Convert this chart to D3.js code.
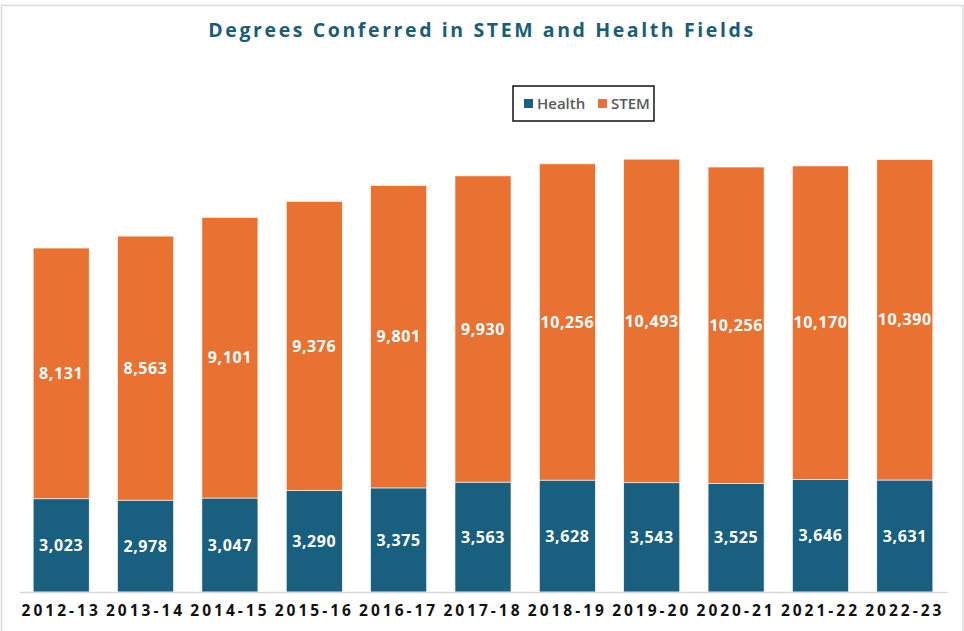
<!DOCTYPE html>
<html>
<head>
<meta charset="utf-8">
<script src="https://cdn.jsdelivr.net/npm/d3@7"></script>
<style>
  body { margin: 0; background: #fff; }
  svg { display: block; font-family: "Open Sans", "DejaVu Sans", sans-serif; }
</style>
</head>
<body>
<div id="chart"></div>
<script>
const years = ['2012-13', '2013-14', '2014-15', '2015-16', '2016-17', '2017-18',
  '2018-19', '2019-20', '2020-21', '2021-22', '2022-23'];
const health = [3023, 2978, 3047, 3290, 3375, 3563, 3628, 3543, 3525, 3646, 3631];
const stem = [8131, 8563, 9101, 9376, 9801, 9930, 10256, 10493, 10256, 10170, 10390];
const seriesNames = ['Health', 'STEM'];

const width = 964;
const height = 631;
const colors = {Health: '#185f80', STEM: '#e97233'};

const svg = d3.select('#chart')
    .append('svg')
    .attr('width', width)
    .attr('height', height);

// outer chart frame
svg.append('rect')
    .attr('x', 1.5).attr('y', 5.5)
    .attr('width', width - 2.5).attr('height', height)
    .attr('fill', 'none')
    .attr('stroke', '#d9d9d9')
    .attr('stroke-width', 1.5);

const rows = years.map((y, i) => ({year: y, Health: health[i], STEM: stem[i]}));
const stack = d3.stack().keys(seriesNames);
const layers = stack(rows);

const x = d3.scaleBand()
    .domain(years)
    .range([19, 947])
    .paddingInner(0.336)
    .paddingOuter(0.168);

const y = d3.scaleLinear()
    .domain([0, 16000])
    .range([592, 98.6]);

svg.append('text')
    .attr('x', width / 2)
    .attr('y', 37)
    .attr('text-anchor', 'middle')
    .attr('fill', '#1b5d78')
    .attr('font-size', 19.5)
    .attr('font-weight', 'bold')
    .attr('letter-spacing', 2.6)
    .text('Degrees Conferred in STEM and Health Fields');

const g = svg.append('g');

layers.forEach((layer) => {
  const key = layer.key;
  g.selectAll(null)
      .data(layer)
      .enter().append('rect')
      .attr('x', (d) => x(d.data.year))
      .attr('y', (d) => y(d[1]))
      .attr('width', x.bandwidth())
      .attr('height', (d) => y(d[0]) - y(d[1]))
      .attr('fill', colors[key])
      .attr('stroke', '#fff')
      .attr('stroke-width', 0.6);

  g.selectAll(null)
      .data(layer)
      .enter().append('text')
      .attr('x', (d) => x(d.data.year) + x.bandwidth() / 2)
      .attr('y', (d) => (y(d[0]) + y(d[1])) / 2)
      .attr('dy', '0.35em')
      .attr('text-anchor', 'middle')
      .attr('fill', '#fff')
      .attr('font-size', 16)
      .attr('font-weight', 'bold')
      .attr('letter-spacing', 0.6)
      .text((d) => d3.format(',')(d.data[key]));
});

const xAxis = svg.append('g')
    .attr('transform', `translate(0, ${y(0)})`)
    .call(d3.axisBottom(x).tickSize(0).tickPadding(13));
xAxis.select('.domain')
    .attr('stroke', '#d9d9d9')
    .attr('stroke-width', 1.5);
xAxis.selectAll('text')
    .attr('fill', '#111')
    .attr('font-size', 15.5)
    .attr('font-weight', 'bold')
    .attr('letter-spacing', 3)
    .attr('font-family', '"Open Sans", "DejaVu Sans", sans-serif');

// legend
const legend = svg.append('g').attr('transform', 'translate(513, 86)');
legend.append('rect')
    .attr('width', 141).attr('height', 35)
    .attr('fill', '#fff')
    .attr('stroke', '#111')
    .attr('stroke-width', 1.5);
const items = [{name: 'Health', x: 11}, {name: 'STEM', x: 85}];
items.forEach((it) => {
  legend.append('rect')
      .attr('x', it.x).attr('y', 13)
      .attr('width', 9).attr('height', 9)
      .attr('fill', colors[it.name]);
  legend.append('text')
      .attr('x', it.x + 13).attr('y', 18)
      .attr('dy', '0.35em')
      .attr('fill', '#595959')
      .attr('font-size', 15)
      .attr('font-weight', 600)
      .text(it.name);
});
</script>
</body>
</html>
